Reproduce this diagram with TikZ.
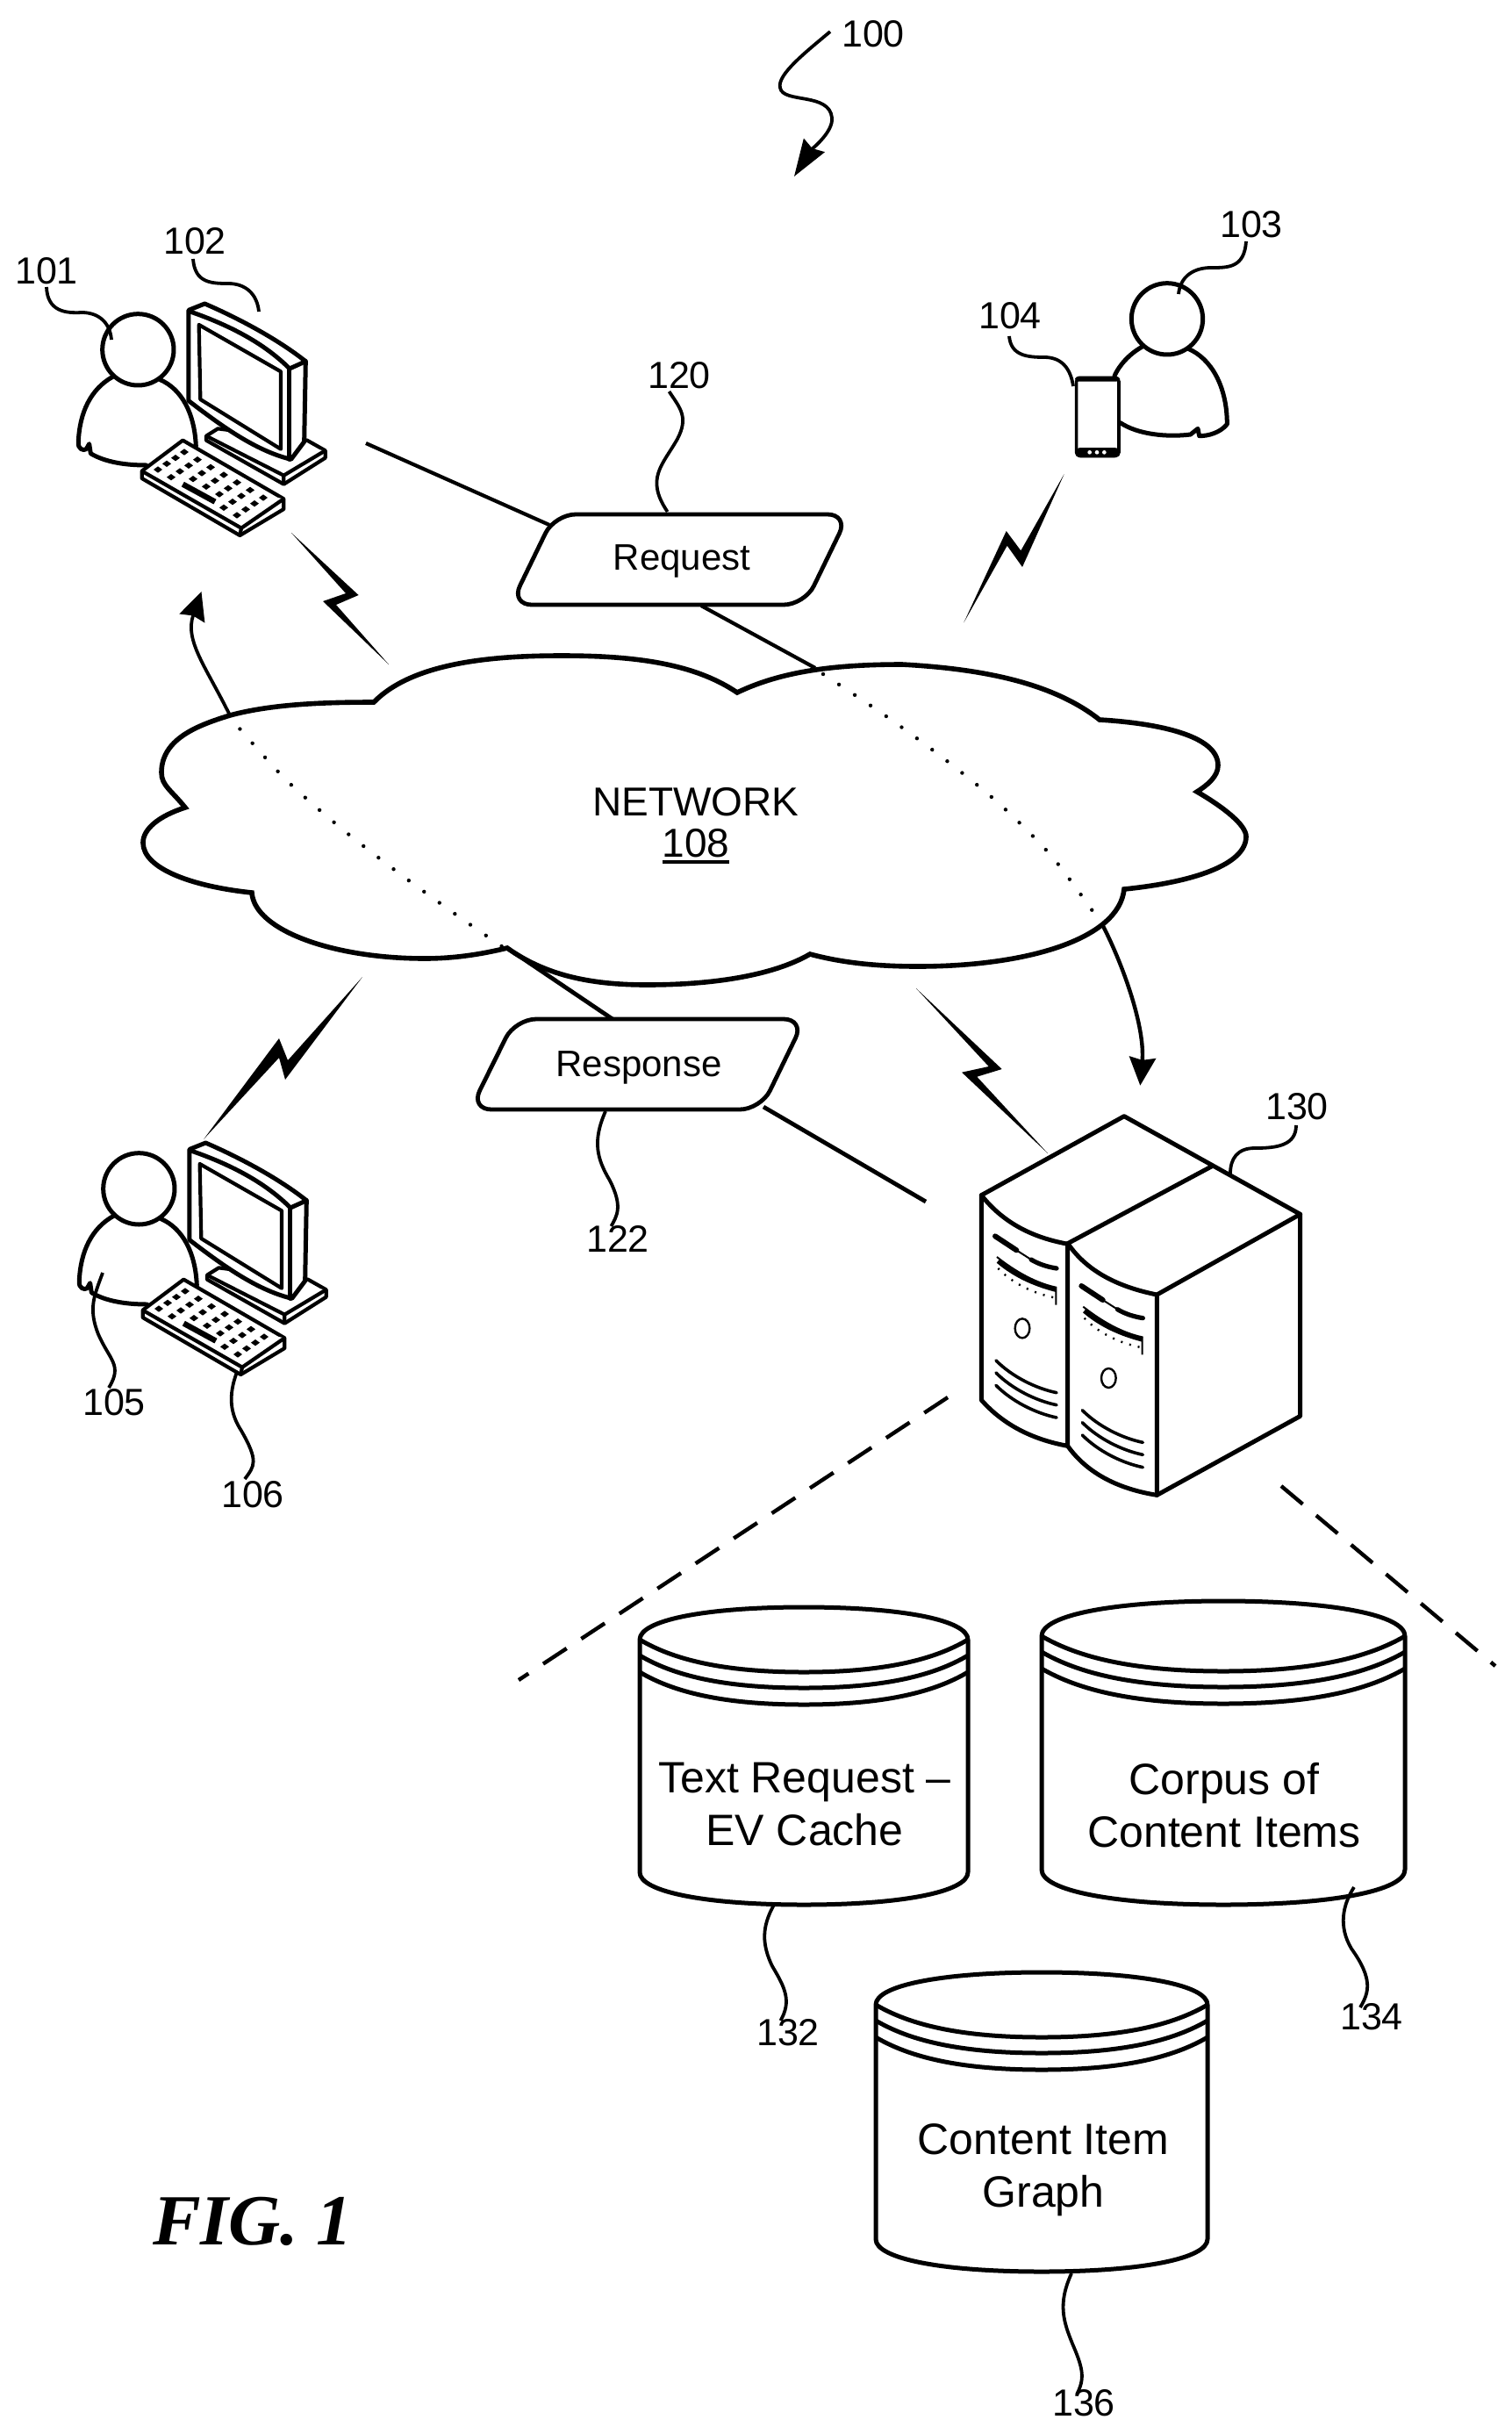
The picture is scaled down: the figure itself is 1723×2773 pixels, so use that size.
\documentclass[tikz,border=0pt]{standalone}
\usepackage{fontspec}
\setmainfont{Liberation Sans}
\newfontfamily\figfont{Liberation Serif}
\usetikzlibrary{arrows.meta}
\newcommand\ulnum[1]{\sbox0{#1}\usebox0\llap{\rule[-3.9pt]{\wd0}{2.1pt}}}
\tikzset{
  x=0.5pt,y=-0.5pt,
  ico/.style={draw=black,line width=2.5pt,line join=round,line cap=round},
  icothin/.style={draw=black,line width=2.1pt,line join=round,fill=white},
  sdet/.style={draw=black,line width=1.8pt,line cap=round},
  lead/.style={draw=black,line width=1.9pt},
  conn/.style={draw=black,line width=2.1pt},
  cloudln/.style={draw=black,line width=2.8pt,line join=miter,fill=white},
  dotln/.style={draw=black,line width=2.2pt,line cap=round,dash pattern=on 0pt off 10.8pt},
  dashln/.style={draw=black,line width=2.2pt,dash pattern=on 16pt off 10pt},
  para/.style={draw=black,line width=2.4pt,rounded corners=12pt,fill=white},
  cylln/.style={draw=black,line width=2.5pt},
  lab/.style={inner sep=0pt,anchor=base,font=\fontsize{21.5}{24}\selectfont},
  tag/.style={inner sep=0pt,anchor=base,font=\fontsize{21}{24}\selectfont},
  cyltext/.style={inner sep=0pt,align=center,font=\fontsize{25}{30}\selectfont},
}
% workstation, coordinates of a 3x crop
\newcommand\workstation{%
  \draw[ico] (472,475) circle (122);
  \draw[ico] (385,568) .. controls (310,610) and (272,690) .. (268,790) .. controls (265,815) and (285,822) .. (295,815) -- (305,797) -- (310,830) .. controls (360,860) and (430,870) .. (500,870);
  \draw[ico] (548,578) .. controls (620,610) and (665,690) .. (670,805);
  % base
  \draw[icothin] (705,770) -- (745,745) -- (1050,785) -- (1112,820) -- (1112,845) -- (970,935) -- (705,785) -- cycle;
  \draw[icothin] (705,770) -- (970,905) -- (1112,820) (970,905) -- (970,935);
  % monitor
  \draw[ico,fill=white] (645,340) -- (700,318) .. controls (820,370) and (950,440) .. (1045,515) -- (1040,790) -- (995,850) .. controls (870,820) and (750,730) .. (645,650) -- cycle;
  \draw[ico] (650,345) .. controls (780,390) and (900,450) .. (990,540) -- (1045,515);
  \draw[ico] (990,540) -- (990,850);
  \draw[icothin,fill=white] (680,390) -- (960,550) -- (960,815) -- (685,645) -- cycle;
  % keyboard
  \draw[icothin] (485,890) -- (625,785) -- (970,985) -- (970,1020) -- (820,1110) -- (485,915) -- cycle;
  \draw[icothin] (485,890) -- (825,1085) -- (970,985) (825,1085) -- (820,1110);
  \foreach \i in {0,1,5,6}{\foreach \j in {0,1,2,3}{
    \fill ({630+45*\i-30*\j},{825+26*\i+20*\j}) +(-15,0) -- +(0,-11) -- +(15,0) -- +(0,11) -- cycle;}}
  \foreach \i in {2,3,4}{\foreach \j in {0,1,2}{
    \fill ({630+45*\i-30*\j},{825+26*\i+20*\j}) +(-15,0) -- +(0,-11) -- +(15,0) -- +(0,11) -- cycle;}}
  \draw[line width=3.2pt] (625,935) -- (735,995);
}
% front details of a server unit
\newcommand\srvunit{%
  \draw[line width=3pt,line cap=round] (162,505) -- (235,553);
  \draw[line width=2.6pt,line cap=round] (285,585) .. controls (310,600) and (340,610) .. (372,615);
  \draw[line width=1pt] (235,553) -- (285,585);
  \draw[line width=2.6pt] (172,590) .. controls (230,640) and (300,670) .. (370,688);
  \draw[line width=1pt] (168,576) .. controls (230,625) and (300,665) .. (370,680) -- (370,740);
  \draw[line width=1.2pt,dash pattern=on 1pt off 4pt] (172,615) .. controls (220,665) and (290,700) .. (365,715);
  \draw[line width=1.2pt] (255,820) ellipse (25 and 33);
  \draw[sdet] (165,930) .. controls (220,985) and (300,1025) .. (372,1040);
  \draw[sdet] (165,972) .. controls (220,1027) and (300,1067) .. (372,1082);
  \draw[sdet] (165,1015) .. controls (220,1070) and (300,1110) .. (372,1125);
}
% database cylinder: centre x, y of top ellipse, half width, half height, height of side
\newcommand\dbcyl[5]{%
  \begin{scope}[shift={(#1,#2)}]
    \draw[cylln,line join=round] ({-#3},0) .. controls ({-#3},{-0.6*#4}) and ({-0.6*#3},{-#4}) .. (0,{-#4}) .. controls ({0.6*#3},{-#4}) and ({#3},{-0.6*#4}) .. ({#3},0) -- ({#3},{#5}) .. controls ({#3},{#5+0.6*#4}) and ({0.6*#3},{#5+#4}) .. (0,{#5+#4}) .. controls ({-0.6*#3},{#5+#4}) and ({-#3},{#5+0.6*#4}) .. ({-#3},{#5}) -- cycle;
    \foreach \d in {0,18,37}{
      \draw[cylln] ({-#3},{\d}) .. controls ({-0.8*#3},{0.6*#4+\d}) and ({-0.5*#3},{#4+\d}) .. (0,{#4+\d}) .. controls ({0.5*#3},{#4+\d}) and ({0.8*#3},{0.6*#4+\d}) .. ({#3},{\d});}
  \end{scope}}
\begin{document}
\begin{tikzpicture}
\useasboundingbox (0,0) rectangle (1723,2773);
\fill[white] (0,0) rectangle (1723,2773);

% ---------- lightning bolts
\fill (332,607) -- (408.6,678) -- (383,689) -- (443,757) -- (368,685) -- (394,676) -- cycle;
\fill (1212.7,540) -- (1165,646) -- (1147.7,621.7) -- (1098.3,709.3) -- (1146.7,605) -- (1163.3,627.3) -- cycle;
\fill (413,1113) -- (325,1230) -- (318,1205) -- (232,1298) -- (318,1183) -- (328,1208) -- cycle;
\fill (1044,1126) -- (1141.7,1218) -- (1113.3,1226.7) -- (1194,1314) -- (1096,1221.7) -- (1126.7,1215) -- cycle;

% ---------- anchor coordinates of the connectors
\coordinate (wsOut) at (417,505);
\coordinate (reqL) at (626,598);
\coordinate (reqB) at (799,690);
\coordinate (netIn) at (929,761);
\coordinate (dotA) at (938,768);
\coordinate (dotB) at (1248,1042);
\coordinate (netOut) at (1257,1055);
\coordinate (srvIn) at (1299.3,1236.7);
\coordinate (srvOut) at (1055,1369);
\coordinate (respR) at (870,1261);
\coordinate (respT) at (698,1161);
\coordinate (netResp) at (578,1080);
\coordinate (dotC) at (571.6,1078);
\coordinate (dotD) at (269.5,826);
\coordinate (netBack) at (262,815);
\coordinate (wsIn) at (229.5,674);

% ---------- connectors under the cloud
\draw[conn] (reqB) -- (netIn);
\draw[conn,line width=2.4pt] (netResp) -- (respT);
\draw[conn] (wsOut) -- (reqL);
\draw[conn,line width=2.4pt] (respR) -- (srvOut);
\draw[conn,line width=1.9pt,-{Stealth[length=16pt,width=15pt,inset=1.5pt]}] (netBack) .. controls (235,760) and (210,730) .. (wsIn);
\draw[conn,line width=2.2pt,-{Stealth[length=16pt,width=15pt,inset=1.5pt]}] (netOut) .. controls (1280,1100) and (1305,1170) .. (srvIn);

% ---------- cloud
\draw[cloudln] (426,800) .. controls (470,755) and (560,747) .. (640,747) .. controls (720,747) and (790,755) .. (840,789)
  .. controls (890,765) and (950,757) .. (1028,757) .. controls (1120,762) and (1200,778) .. (1253,820)
  .. controls (1320,824) and (1388,838) .. (1388,872) .. controls (1388,885) and (1375,895) .. (1364,902)
  .. controls (1395,920) and (1420,940) .. (1420,953) .. controls (1420,985) and (1360,1005) .. (1281,1013)
  .. controls (1275,1070) and (1170,1101) .. (1046,1101) .. controls (1000,1101) and (960,1097) .. (923,1087)
  .. controls (880,1112) and (810,1122) .. (737,1122) .. controls (670,1122) and (620,1110) .. (578,1080)
  .. controls (545,1088) and (515,1092) .. (484,1092) .. controls (380,1092) and (290,1060) .. (287,1017)
  .. controls (220,1010) and (163,990) .. (163,960) .. controls (163,945) and (180,930) .. (211,920)
  .. controls (195,900) and (184,895) .. (184,880) .. controls (184,840) and (230,825) .. (262,815)
  .. controls (310,802) and (370,800) .. (426,800) -- cycle;
\node[inner sep=0pt,align=center,font=\fontsize{23}{21.5}\selectfont] (network) at (793,943) {\strut NETWORK\\\strut\ulnum{108}};

% ---------- dotted continuations through the cloud
\draw[dotln] plot[smooth] coordinates {(dotA) (1007,814) (1074,863) (1139,916) (1198,975) (dotB)};
\draw[dotln] plot[smooth] coordinates {(dotC) (521,1043) (453.6,994) (388,943) (325.5,888) (dotD)};

% ---------- request / response
\draw[para] (632,586) -- (967,586) -- (917,689) -- (582,689) -- cycle;
\node[tag] (request) at (777,649.5) {Request};
\draw[para] (587,1161) -- (917,1161) -- (867,1264) -- (536,1264) -- cycle;
\node[tag] (response) at (728,1226) {Response};

% ---------- workstations
\begin{scope}[shift={(0,240)},scale=1/3]\workstation\end{scope}
\begin{scope}[shift={(1,1196)},scale=1/3]\workstation\end{scope}

% ---------- person 103 and phone 104
\begin{scope}[shift={(1150,240)},scale=1/3]
  \draw[ico] (540,370) circle (122);
  \draw[ico] (455,465) .. controls (410,490) and (375,530) .. (360,565);
  \draw[ico] (612,472) .. controls (690,505) and (745,600) .. (745,730) .. controls (720,760) and (680,770) .. (650,770) -- (645,745) -- (620,765) .. controls (540,775) and (440,765) .. (380,725);
  \draw[line width=1.8pt,fill=white,rounded corners=2pt] (230,572) rectangle (375,838);
  \fill[rounded corners=2pt] (225,566) rectangle (378,584);
  \fill[rounded corners=3pt] (226,810) rectangle (378,844);
  \fill[white] (275,826) circle (7) (300,826) circle (7) (325,826) circle (7);
\end{scope}

% ---------- servers
\begin{scope}[shift={(1080,1240)},scale=1/3]
  \draw[ico] (115,365) -- (603,95) -- (1205,430) -- (715,705) .. controls (590,680) and (480,630) .. (412,532) .. controls (290,510) and (190,460) .. (115,365) -- cycle;
  \draw[ico] (410,530) -- (905,265);
  \draw[ico] (1205,430) -- (1205,1120) -- (715,1390) -- (715,705);
  \draw[ico] (115,365) -- (115,1065) .. controls (190,1150) and (290,1200) .. (410,1222) -- (410,530);
  \draw[ico] (410,1222) .. controls (480,1320) and (590,1370) .. (715,1390);
  \srvunit
  \begin{scope}[shift={(295,170)}]\srvunit\end{scope}
\end{scope}

% ---------- dashed fan
\coordinate (fanA) at (1080,1592);
\coordinate (fanB) at (591,1914);
\coordinate (fanC) at (1460,1693);
\coordinate (fanD) at (1704,1898);
\draw[dashln] (fanA) -- (fanB);
\draw[dashln] (fanC) -- (fanD);

% ---------- stores
\dbcyl{916}{1868}{187}{37}{265}
\dbcyl{1394}{1864}{207}{40}{266}
\dbcyl{1187}{2284}{189}{37}{267}
\node[cyltext] (store132) at (917,2060) {\strut Text Request –\\\strut EV Cache};
\node[cyltext] (store134) at (1395,2062) {\strut Corpus of\\\strut Content Items};
\node[cyltext] (store136) at (1189,2472) {\strut Content Item\\\strut Graph};

% ---------- reference numerals
\node[lab] (n100) at (995,53) {100};
\node[lab] (n101) at (53,323) {101};
\node[lab] (n102) at (222,289) {102};
\node[lab] (n103) at (1426,270) {103};
\node[lab] (n104) at (1151,374) {104};
\node[lab] (n105) at (130,1612) {105};
\node[lab] (n106) at (288,1717) {106};
\node[lab] (n120) at (774,442) {120};
\node[lab] (n122) at (704,1426) {122};
\node[lab] (n130) at (1478,1275) {130};
\node[lab] (n132) at (898,2330) {132};
\node[lab] (n134) at (1563,2312) {134};
\node[lab] (n136) at (1235,2752) {136};
\node[inner sep=0pt,anchor=base,font=\figfont\bfseries\itshape\fontsize{41}{44}\selectfont] (fig) at (288,2557) {FIG. 1};

% ---------- leader lines
\coordinate (t100) at (905,201);
\draw[lead,-{Stealth[length=21pt,width=14pt,inset=2pt]}] (946,36) .. controls (920,58) and (885,85) .. (889,100) .. controls (892,118) and (945,105) .. (948,134) .. controls (950,150) and (925,170) .. (t100);
\coordinate (t101) at (127,387);
\draw[lead] (53,327) .. controls (54,355) and (75,357) .. (93,356) .. controls (110,356) and (125,365) .. (t101);
\coordinate (t102) at (295,355);
\draw[lead] (220,295) .. controls (222,322) and (240,323) .. (260,323) .. controls (280,323) and (293,335) .. (t102);
\coordinate (t103) at (1343,335);
\draw[lead] (1420,275) .. controls (1418,305) and (1400,305) .. (1380,305) .. controls (1360,305) and (1345,315) .. (t103);
\coordinate (t104) at (1223,440);
\draw[lead] (1150,383) .. controls (1152,405) and (1170,407) .. (1190,407) .. controls (1210,407) and (1220,420) .. (t104);
\coordinate (t105) at (117,1450);
\draw[lead] (t105) .. controls (108,1475) and (100,1490) .. (112,1520) .. controls (125,1550) and (140,1555) .. (124,1581);
\coordinate (t106) at (270,1563);
\draw[lead] (t106) .. controls (260,1590) and (262,1610) .. (275,1630) .. controls (295,1665) and (290,1670) .. (279,1685);
\coordinate (t120) at (760.6,583);
\draw[lead] (762.5,446) .. controls (775,465) and (785,475) .. (772,500) .. controls (755,530) and (735,545) .. (t120);
\coordinate (t122) at (690,1266);
\draw[lead] (t122) .. controls (675,1300) and (680,1320) .. (695,1345) .. controls (710,1375) and (703,1385) .. (696.5,1397);
\coordinate (t130) at (1402,1337);
\draw[lead] (1477,1282) .. controls (1477,1305) and (1455,1308) .. (1430,1308) .. controls (1410,1308) and (1402,1320) .. (t130);
\coordinate (t132) at (882,2170);
\draw[lead] (t132) .. controls (868,2195) and (868,2215) .. (880,2240) .. controls (895,2265) and (902,2280) .. (889.5,2302);
\coordinate (t134) at (1543,2150);
\draw[lead] (t134) .. controls (1530,2170) and (1525,2195) .. (1540,2220) .. controls (1565,2255) and (1560,2270) .. (1550,2287);
\coordinate (t136) at (1221,2590);
\draw[lead] (t136) .. controls (1205,2625) and (1212,2645) .. (1222,2670) .. controls (1235,2700) and (1236,2710) .. (1227,2728);
\end{tikzpicture}
\end{document}
